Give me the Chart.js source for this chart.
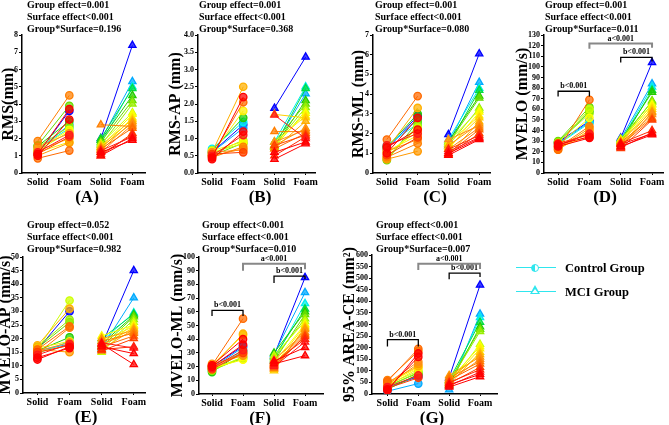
<!DOCTYPE html>
<html>
<head>
<meta charset="utf-8">
<script src="https://cdn.jsdelivr.net/npm/chart.js@4.4.1/dist/chart.umd.min.js"></script>
<style>
  body { margin: 0; width: 669px; height: 425px; position: relative; overflow: hidden; background: #fff;
         font-family: "Liberation Serif", "Times New Roman", serif; font-weight: bold; color: #000; }
  canvas { position: absolute; }
  .stat { position: absolute; font-size: 10px; line-height: 12px; white-space: nowrap; }
  .lab { position: absolute; font-size: 17px; line-height: 20px; transform: translateX(-50%); }
  .leg { position: absolute; font-size: 12.5px; line-height: 14px; white-space: nowrap; }
</style>
</head>
<body>

<script>
var xLabels = ['Solid', 'Foam', 'Solid', 'Foam'];

// (A) RMS
var rmsCtrlSolid = [1.1, 1.0, 1.2, 1.1, 0.85, 1.85, 1.5, 1.0, 1.3, 1.2, 1.4, 1.3, 1.5, 1.6, 1.55, 1.4, 1.3, 1.1];
var rmsCtrlFoam  = [3.7, 3.1, 2.2, 2.1, 1.3, 4.5, 2.3, 1.75, 2.0, 1.8, 2.5, 2.4, 2.7, 3.9, 3.0, 2.6, 2.8, 3.6];
var rmsMciSolid  = [1.2, 1.0, 1.3, 1.1, 1.0, 1.4, 2.8, 1.2, 1.5, 1.3, 1.6, 1.4, 1.5, 1.7, 1.6, 1.8, 1.9, 2.0, 1.7, 1.9, 2.0];
var rmsMciFoam   = [1.9, 2.0, 2.1, 2.2, 2.3, 2.6, 2.7, 2.8, 2.9, 3.0, 3.1, 3.2, 3.4, 3.5, 4.0, 4.2, 4.5, 4.9, 5.0, 5.3, 7.4];

// (B) RMS-AP
var apCtrlSolid = [0.45, 0.4, 0.5, 0.55, 0.5, 0.45, 0.6, 0.5, 0.6, 0.55, 0.65, 0.6, 0.55, 0.5, 0.65, 0.7, 0.6, 0.6];
var apCtrlFoam  = [2.2, 1.2, 1.1, 0.6, 2.05, 0.76, 0.67, 0.7, 2.5, 1.8, 0.9, 0.85, 0.95, 0.87, 1.6, 1.48, 1.3, 1.4];
var apMciSolid  = [0.4, 0.6, 1.68, 0.5, 0.8, 0.7, 1.2, 0.9, 0.8, 0.7, 1.7, 0.9, 0.8, 0.75, 0.8, 0.9, 0.75, 0.76, 0.9, 0.8, 1.88];
var apMciFoam   = [0.85, 0.9, 1.0, 1.05, 1.1, 1.15, 1.2, 1.25, 1.3, 1.5, 1.6, 1.65, 1.73, 1.8, 1.9, 2.0, 2.1, 2.45, 2.5, 2.3, 3.36];

// (C) RMS-ML
var mlCtrlSolid = [1.0, 1.3, 1.4, 0.9, 1.7, 0.8, 1.1, 0.7, 1.2, 1.1, 1.0, 0.8, 0.7, 0.65, 1.3, 1.4, 1.35, 1.2];
var mlCtrlFoam  = [2.8, 2.2, 2.0, 1.8, 3.9, 1.5, 1.7, 1.1, 3.3, 1.9, 2.1, 2.3, 2.4, 2.6, 3.0, 2.5, 2.7, 2.9];
var mlMciSolid  = [0.9, 1.0, 1.1, 1.2, 0.95, 1.0, 1.2, 1.7, 1.4, 0.9, 1.3, 1.5, 1.2, 1.6, 1.4, 1.5, 1.6, 1.4, 1.7, 1.5, 1.95];
var mlMciFoam   = [1.7, 1.75, 1.8, 1.9, 2.0, 2.2, 2.3, 2.4, 2.5, 2.6, 2.8, 2.9, 3.1, 3.2, 3.3, 3.8, 3.9, 4.2, 4.3, 4.6, 6.05];

// (D) MVELO
var mvCtrlSolid = [27, 25, 26, 28, 22, 24, 25, 23, 22, 24, 26, 28, 29, 30, 29, 27, 28, 29];
var mvCtrlFoam  = [34, 33, 37, 36, 69, 44, 38, 42, 40, 35, 52, 60, 56, 62, 58, 47, 48, 49];
var mvMciSolid  = [25, 27, 24, 28, 23, 26, 29, 27, 24, 30, 25, 28, 31, 29, 32, 30, 31, 28, 30, 32, 33];
var mvMciFoam   = [36, 37, 38, 40, 50, 51, 52, 55, 57, 58, 60, 62, 64, 65, 67, 68, 76, 78, 81, 84, 104];

// (E) MVELO-AP
var mvapCtrlSolid = [12.3, 13, 14, 15, 16, 14.5, 15.5, 16, 17.5, 16.5, 15, 16, 17, 16.5, 15.5, 14.5, 15.5, 16];
var mvapCtrlFoam  = [17, 16.5, 18, 17.5, 24.5, 24, 18.5, 15, 31, 19, 17.5, 34, 27, 26, 20.5, 19, 18, 30];
var mvapMciSolid  = [18, 17, 18.5, 16, 15.5, 17, 19, 18, 20, 16, 17.5, 19, 21, 15, 16, 17, 18, 20, 19, 16.5, 17.5];
var mvapMciFoam   = [10.5, 14.5, 16.5, 17, 20, 21, 22, 22.5, 23, 23.5, 24, 24.5, 25, 26, 27, 28, 28.5, 29, 29.5, 35, 45];

// (F) MVELO-ML
var mvmlCtrlSolid = [21, 20, 19, 18, 21, 20, 19, 22, 20, 21, 19, 18, 17, 18, 16, 17, 19, 20];
var mvmlCtrlFoam  = [40, 36, 32, 30, 55, 30, 29, 28, 44, 43, 25, 27, 27, 26, 31, 32, 34, 35];
var mvmlMciSolid  = [22, 24, 20, 23, 21, 19, 22, 25, 20, 18, 17, 21, 23, 28, 26, 24, 30, 27, 25, 29, 28];
var mvmlMciFoam   = [28, 34, 38, 40, 42, 43, 44, 45, 47, 48, 49, 50, 51, 53, 55, 58, 60, 62, 66, 74, 85];

// (G) 95% AREA-CE
var areaCtrlSolid = [15, 20, 30, 25, 55, 60, 45, 40, 50, 35, 45, 40, 30, 35, 20, 25, 12, 30];
var areaCtrlFoam  = [175, 160, 80, 70, 195, 185, 140, 130, 120, 110, 115, 100, 95, 90, 85, 80, 45, 75];
var areaMciSolid  = [30, 40, 35, 50, 45, 60, 70, 55, 80, 65, 40, 50, 60, 45, 50, 55, 40, 60, 35, 18, 70];
var areaMciFoam   = [75, 85, 95, 105, 115, 130, 140, 150, 160, 170, 180, 195, 205, 215, 270, 280, 290, 310, 330, 345, 470];

// red -> blue, one colour per subject
var palette = ['#ff0000', '#ff0000', '#ff1a1a', '#ff2a00', '#ff4000', '#ff6a00', '#ff7f00', '#ff8c1a',
               '#ff9900', '#ffb000', '#ffd000', '#ffee00', '#ffff00', '#ccff00', '#99ee00', '#66dd00',
               '#22cc00', '#00dd44', '#00eeee', '#00aaff', '#0000ff'];

var FONT = '"Liberation Serif", "Times New Roman", serif';
var TITLE_SIZE = 16;

var panels = [
  {lab: '(A)', title: 'RMS(mm)', max: 8, step: 1, dec: 0,
   cs: rmsCtrlSolid, cf: rmsCtrlFoam, ms: rmsMciSolid, mf: rmsMciFoam,
   axisX: 22, axisEnd: 145, top: 35, bottom: 173, xMin: -0.5, xMax: 3.4, gap: 13,
   stats: ['Group effect=0.001', 'Surface effect<0.001', 'Group*Surface=0.196'], sx: 27, sy: -1, lx: 87, ly: 187, br: []},
  {lab: '(B)', title: 'RMS-AP (mm)', max: 4, step: 0.5, dec: 1,
   cs: apCtrlSolid, cf: apCtrlFoam, ms: apMciSolid, mf: apMciFoam,
   axisX: 198, axisEnd: 315, top: 35, bottom: 173, xMin: -0.45, xMax: 3.3, gap: 22,
   stats: ['Group effect=0.001', 'Surface effect<0.001', 'Group*Surface=0.368'], sx: 199, sy: -1, lx: 260, ly: 187, br: []},
  {lab: '(C)', title: 'RMS-ML (mm)', max: 7, step: 1, dec: 0,
   cs: mlCtrlSolid, cf: mlCtrlFoam, ms: mlMciSolid, mf: mlMciFoam,
   axisX: 373, axisEnd: 490, top: 35, bottom: 173, xMin: -0.45, xMax: 3.35, gap: 14,
   stats: ['Group effect=0.001', 'Surface effect<0.001', 'Group*Surface=0.080'], sx: 375, sy: -1, lx: 435, ly: 187, br: []},
  {lab: '(D)', title: 'MVELO (mm/s)', max: 130, step: 10, dec: 0,
   cs: mvCtrlSolid, cf: mvCtrlFoam, ms: mvMciSolid, mf: mvMciFoam,
   axisX: 544, axisEnd: 663, top: 35, bottom: 173, xMin: -0.45, xMax: 3.35, gap: 21,
   stats: ['Group effect=0.001', 'Surface effect<0.001', 'Group*Surface=0.011'], sx: 545, sy: -1, lx: 605, ly: 187,
   br: [{from: 0, to: 1, y: 77, y1: 72, y2: 72, text: 'b<0.001', color: '#000', w: 1.3},
        {from: 2, to: 3, y: 109, y1: 104, y2: 105, text: 'b<0.001', color: '#000', w: 1.3},
        {from: 1, to: 3, y: 122, y1: 117, y2: 118, text: 'a<0.001', color: '#888', w: 2}]},
  {lab: '(E)', title: 'MVELO-AP (mm/s)', max: 50, step: 5, dec: 0,
   cs: mvapCtrlSolid, cf: mvapCtrlFoam, ms: mvapMciSolid, mf: mvapMciFoam,
   axisX: 23, axisEnd: 145, top: 257, bottom: 393, xMin: -0.45, xMax: 3.35, gap: 17,
   stats: ['Group effect=0.052', 'Surface effect<0.001', 'Group*Surface=0.982'], sx: 27, sy: 219, lx: 86, ly: 407, br: []},
  {lab: '(F)', title: 'MVELO-ML (mm/s)', max: 100, step: 10, dec: 0,
   cs: mvmlCtrlSolid, cf: mvmlCtrlFoam, ms: mvmlMciSolid, mf: mvmlMciFoam,
   axisX: 199, axisEnd: 323, top: 257, bottom: 394, xMin: -0.42, xMax: 3.58, gap: 21,
   stats: ['Group effect<0.001', 'Surface effect<0.001', 'Group*Surface=0.010'], sx: 202, sy: 219, lx: 260, ly: 408,
   br: [{from: 0, to: 1, y: 61, y1: 57, y2: 57, text: 'b<0.001', color: '#000', w: 1.3},
        {from: 2, to: 3, y: 86, y1: 81, y2: 84, text: 'b<0.001', color: '#000', w: 1.3},
        {from: 1, to: 3, y: 95, y1: 90, y2: 91, text: 'a<0.001', color: '#888', w: 2}]},
  {lab: '(G)', title: '95% AREA-CE (mm\u00B2)', max: 600, step: 50, dec: 0,
   cs: areaCtrlSolid, cf: areaCtrlFoam, ms: areaMciSolid, mf: areaMciFoam,
   axisX: 372, axisEnd: 497, top: 255, bottom: 394, xMin: -0.5, xMax: 3.55, gap: 22,
   stats: ['Group effect<0.001', 'Surface effect<0.001', 'Group*Surface=0.007'], sx: 376, sy: 219, lx: 432, ly: 408,
   br: [{from: 0, to: 1, y: 235, y1: 205, y2: 205, text: 'b<0.001', color: '#000', w: 1.3},
        {from: 2, to: 3, y: 522, y1: 495, y2: 505, text: 'b<0.001', color: '#000', w: 1.3},
        {from: 1, to: 3, y: 562, y1: 535, y2: 540, text: 'a<0.001', color: '#888', w: 2}]}
];

var bracketPlugin = {
  id: 'brackets',
  afterDatasetsDraw: function(chart, args, opts) {
    var items = opts.items || [];
    var ctx = chart.ctx, xs = chart.scales.x, ys = chart.scales.y;
    items.forEach(function(b) {
      var x1 = xs.getPixelForValue(b.from), x2 = xs.getPixelForValue(b.to);
      var y = ys.getPixelForValue(b.y);
      ctx.save();
      ctx.strokeStyle = b.color;
      ctx.lineWidth = b.w;
      ctx.beginPath();
      ctx.moveTo(x1, ys.getPixelForValue(b.y1));
      ctx.lineTo(x1, y);
      ctx.lineTo(x2, y);
      ctx.lineTo(x2, ys.getPixelForValue(b.y2));
      ctx.stroke();
      ctx.fillStyle = '#000';
      ctx.font = 'bold 8px ' + FONT;
      ctx.textAlign = 'center';
      ctx.textBaseline = 'bottom';
      ctx.fillText(b.text, (x1 + x2) / 2, y - 1);
      ctx.restore();
    });
  }
};

function colorFor(i, n) {
  return palette[Math.round(i * (palette.length - 1) / (n - 1))];
}

function groupSets(solid, foam, x0, style) {
  return solid.map(function(s, i) {
    var c = colorFor(i, solid.length);
    return {
      data: [{x: x0, y: s}, {x: x0 + 1, y: foam[i]}],
      borderColor: c, borderWidth: 1,
      pointStyle: style, pointRadius: style === 'triangle' ? 4.2 : 3.7,
      pointBorderColor: c, pointBackgroundColor: c + 'bb', pointBorderWidth: 1.3
    };
  });
}

var padTop = 8, padRight = 16, xH = 16;

panels.forEach(function(p) {
  var yW = p.gap + TITLE_SIZE / 2;
  var cv = document.createElement('canvas');
  var w = yW + (p.axisEnd - p.axisX) + padRight;
  var h = padTop + (p.bottom - p.top) + xH;
  cv.width = w; cv.height = h;
  cv.style.left = (p.axisX - yW) + 'px';
  cv.style.top = (p.top - padTop) + 'px';
  document.body.appendChild(cv);

  new Chart(cv, {
    type: 'line',
    data: {datasets: groupSets(p.cs, p.cf, 0, 'circle').concat(groupSets(p.ms, p.mf, 2, 'triangle'))},
    plugins: [bracketPlugin],
    options: {
      responsive: false,
      animation: false,
      layout: {padding: {top: padTop, right: padRight, left: 0, bottom: 0}},
      plugins: {legend: {display: false}, tooltip: {enabled: false}, brackets: {items: p.br}},
      scales: {
        x: {
          type: 'linear', min: p.xMin, max: p.xMax,
          afterBuildTicks: function(s) { s.ticks = [0, 1, 2, 3].map(function(v) { return {value: v}; }); },
          afterFit: function(s) { s.height = xH; },
          ticks: {callback: function(v) { return xLabels[v]; }, autoSkip: false, maxRotation: 0,
                  font: {family: FONT, size: 10, weight: 'bold'}, color: '#000', padding: 1},
          grid: {drawOnChartArea: false, drawTicks: true, tickLength: 2, color: '#000'},
          border: {color: '#000', width: 1.5}
        },
        y: {
          min: 0, max: p.max,
          afterFit: function(s) { s.width = yW; },
          ticks: {stepSize: p.step, autoSkip: false, callback: function(v) { return v.toFixed(p.dec); },
                  font: {family: FONT, size: 8, weight: 'bold'}, color: '#000', padding: 1},
          grid: {drawOnChartArea: false, drawTicks: true, tickLength: 3, color: '#000'},
          border: {color: '#000', width: 1.5},
          title: {display: true, text: p.title, color: '#000', padding: 0,
                  font: {family: FONT, size: TITLE_SIZE, weight: 'bold', lineHeight: 1}}
        }
      }
    }
  });

  var st = document.createElement('div');
  st.className = 'stat';
  st.style.left = p.sx + 'px';
  st.style.top = p.sy + 'px';
  st.innerHTML = p.stats.join('<br>');
  document.body.appendChild(st);

  var lb = document.createElement('div');
  lb.className = 'lab';
  lb.style.left = p.lx + 'px';
  lb.style.top = p.ly + 'px';
  lb.textContent = p.lab;
  document.body.appendChild(lb);
});
</script>

<!-- legend -->
<div style="position:absolute;left:516px;top:267px;width:40px;border-top:1.5px solid #2fe6ee"></div>
<div style="position:absolute;left:531px;top:264px;width:6px;height:6px;border:1.5px solid #2fe6ee;border-radius:50%;background:linear-gradient(90deg,#2fe6ee 50%,#fff 50%)"></div>
<div class="leg" style="left:565px;top:261px">Control Group</div>
<div style="position:absolute;left:516px;top:291px;width:40px;border-top:1.5px solid #2fe6ee"></div>
<div style="position:absolute;left:530px;top:285px;width:10px;height:9px;background:#2fe6ee;clip-path:polygon(50% 0,100% 100%,0 100%)"></div>
<div style="position:absolute;left:532px;top:289px;width:6px;height:4px;background:#fff;clip-path:polygon(50% 0,100% 100%,0 100%)"></div>
<div class="leg" style="left:565px;top:285px">MCI Group</div>

</body>
</html>
